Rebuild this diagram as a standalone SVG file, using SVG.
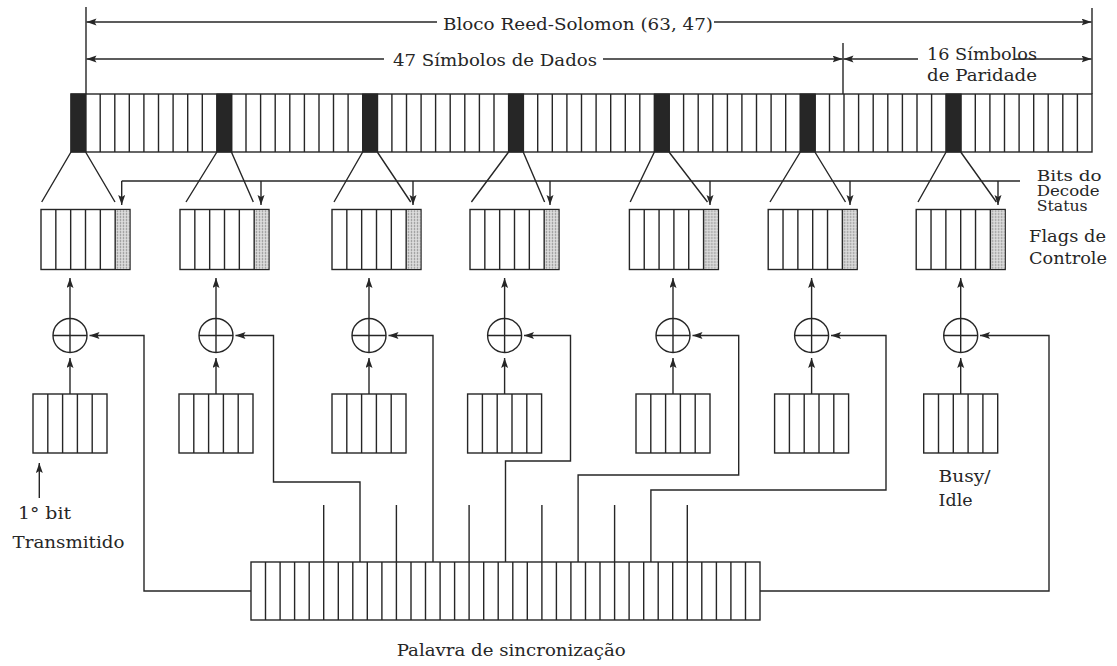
<svg xmlns="http://www.w3.org/2000/svg" xmlns:xlink="http://www.w3.org/1999/xlink" width="1117" height="666" viewBox="0 0 1117 666">
<style>
.ln{fill:none;stroke:#262626;stroke-width:1.4}
.box{fill:#fff;stroke:#262626;stroke-width:1.4}
.blk{fill:#262626;stroke:#262626;stroke-width:1}
.ar{fill:none;stroke:#262626;stroke-width:1.4;marker-end:url(#ah)}
.t{font-family:"DejaVu Serif","Liberation Serif",serif;font-size:17px;fill:#262626}
.s{font-size:14px}
</style>
<defs>
<marker id="ah" markerUnits="userSpaceOnUse" markerWidth="11" markerHeight="8" refX="10" refY="3.5" orient="auto">
<path d="M0,0 L10,3.5 L0,7 L2,3.5 Z" fill="#262626"/>
</marker>
<pattern id="dots" patternUnits="userSpaceOnUse" width="3" height="3">
<rect width="3" height="3" fill="#dcdcdc"/>
<circle cx="1.5" cy="1.5" r="0.8" fill="#7a7a7a"/>
</pattern>
<g id="ubox">
<rect class="box" x="0" y="0" width="89" height="60"/>
<rect x="74.2" y="0.7" width="14.1" height="58.6" fill="url(#dots)"/>
<path class="ln" d="M14.83,0V60M29.67,0V60M44.5,0V60M59.33,0V60M74.17,0V60"/>
</g>
<g id="lbox">
<rect class="box" x="0" y="0" width="74" height="59"/>
<path class="ln" d="M14.8,0V59M29.6,0V59M44.4,0V59M59.2,0V59"/>
</g>
<g id="xor">
<circle class="box" cx="0" cy="0" r="17"/>
<path class="ln" d="M-17,0H17M0,-17V17"/>
</g>
</defs>
<rect width="1117" height="666" fill="#fff"/>

<g id="rs-block">
<rect class="box" x="71" y="94" width="1021" height="58"/>
<path class="ln" d="M85.6,94V152M100.2,94V152M114.8,94V152M129.3,94V152M143.9,94V152M158.5,94V152M173.1,94V152M187.7,94V152M202.3,94V152M216.9,94V152M231.4,94V152M246,94V152M260.6,94V152M275.2,94V152M289.8,94V152M304.4,94V152M319,94V152M333.5,94V152M348.1,94V152M362.7,94V152M377.3,94V152M391.9,94V152M406.5,94V152M421.1,94V152M435.6,94V152M450.2,94V152M464.8,94V152M479.4,94V152M494,94V152M508.6,94V152M523.2,94V152M537.7,94V152M552.3,94V152M566.9,94V152M581.5,94V152M596.1,94V152M610.7,94V152M625.3,94V152M639.8,94V152M654.4,94V152M669,94V152M683.6,94V152M698.2,94V152M712.8,94V152M727.4,94V152M741.9,94V152M756.5,94V152M771.1,94V152M785.7,94V152M800.3,94V152M814.9,94V152M829.5,94V152M844,94V152M858.6,94V152M873.2,94V152M887.8,94V152M902.4,94V152M917,94V152M931.6,94V152M946.1,94V152M960.7,94V152M975.3,94V152M989.9,94V152M1004.5,94V152M1019.1,94V152M1033.7,94V152M1048.2,94V152M1062.8,94V152M1077.4,94V152"/>
<rect class="blk" x="71" y="94" width="15" height="58"/>
<rect class="blk" x="216.9" y="94" width="15" height="58"/>
<rect class="blk" x="362.7" y="94" width="15" height="58"/>
<rect class="blk" x="508.6" y="94" width="15" height="58"/>
<rect class="blk" x="654.4" y="94" width="15" height="58"/>
<rect class="blk" x="800.3" y="94" width="15" height="58"/>
<rect class="blk" x="946.1" y="94" width="15" height="58"/>
</g>

<g id="labels">
<text class="t" x="443" y="30" textLength="270" lengthAdjust="spacingAndGlyphs">Bloco Reed-Solomon (63, 47)</text>
<text class="t" x="393" y="65.5" textLength="204" lengthAdjust="spacingAndGlyphs">47 Símbolos de Dados</text>
<text class="t" x="927" y="60" textLength="110" lengthAdjust="spacingAndGlyphs">16 Símbolos</text>
<text class="t" x="927" y="81" textLength="110" lengthAdjust="spacingAndGlyphs">de Paridade</text>
<text class="t s" x="1036.7" y="181" textLength="65" lengthAdjust="spacingAndGlyphs">Bits do</text>
<text class="t s" x="1036.7" y="196" textLength="63" lengthAdjust="spacingAndGlyphs">Decode</text>
<text class="t s" x="1036.7" y="211" textLength="51" lengthAdjust="spacingAndGlyphs">Status</text>
<text class="t" x="1029" y="242" textLength="77" lengthAdjust="spacingAndGlyphs">Flags de</text>
<text class="t" x="1029" y="263.5" textLength="78" lengthAdjust="spacingAndGlyphs">Controle</text>
<text class="t" x="18" y="518.5" textLength="53" lengthAdjust="spacingAndGlyphs">1° bit</text>
<text class="t" x="12.5" y="548" textLength="112" lengthAdjust="spacingAndGlyphs">Transmitido</text>
<text class="t" x="938.6" y="482" textLength="52" lengthAdjust="spacingAndGlyphs">Busy/</text>
<text class="t" x="938.6" y="506" textLength="34" lengthAdjust="spacingAndGlyphs">Idle</text>
<text class="t" x="396.7" y="656" textLength="229" lengthAdjust="spacingAndGlyphs">Palavra de sincronização</text>
</g>

<g id="flags1"><use xlink:href="#ubox" href="#ubox" x="41" y="209.5"/></g>
<g id="flags2"><use xlink:href="#ubox" href="#ubox" x="180" y="209.5"/></g>
<g id="flags3"><use xlink:href="#ubox" href="#ubox" x="332" y="209.5"/></g>
<g id="flags4"><use xlink:href="#ubox" href="#ubox" x="470" y="209.5"/></g>
<g id="flags5"><use xlink:href="#ubox" href="#ubox" x="629.4" y="209.5"/></g>
<g id="flags6"><use xlink:href="#ubox" href="#ubox" x="768.2" y="209.5"/></g>
<g id="flags7"><use xlink:href="#ubox" href="#ubox" x="916.2" y="209.5"/></g>

<g id="xor1"><use xlink:href="#xor" href="#xor" x="70" y="335.5"/></g>
<g id="xor2"><use xlink:href="#xor" href="#xor" x="216" y="335.5"/></g>
<g id="xor3"><use xlink:href="#xor" href="#xor" x="369" y="335.5"/></g>
<g id="xor4"><use xlink:href="#xor" href="#xor" x="504.6" y="335.5"/></g>
<g id="xor5"><use xlink:href="#xor" href="#xor" x="673" y="335.5"/></g>
<g id="xor6"><use xlink:href="#xor" href="#xor" x="811.6" y="335.5"/></g>
<g id="xor7"><use xlink:href="#xor" href="#xor" x="960.7" y="335.5"/></g>

<g id="reg1"><use xlink:href="#lbox" href="#lbox" x="33" y="394"/></g>
<g id="reg2"><use xlink:href="#lbox" href="#lbox" x="179" y="394"/></g>
<g id="reg3"><use xlink:href="#lbox" href="#lbox" x="332" y="394"/></g>
<g id="reg4"><use xlink:href="#lbox" href="#lbox" x="467.6" y="394"/></g>
<g id="reg5"><use xlink:href="#lbox" href="#lbox" x="636" y="394"/></g>
<g id="reg6"><use xlink:href="#lbox" href="#lbox" x="774.6" y="394"/></g>
<g id="reg7"><use xlink:href="#lbox" href="#lbox" x="923.7" y="394"/></g>

<g id="sync-word">
<rect class="box" x="251" y="562" width="509" height="58"/>
<path class="ln" d="M265.5,562V620M280.1,562V620M294.6,562V620M309.2,562V620M323.7,505V620M338.3,562V620M352.8,562V620M367.3,562V620M381.9,562V620M396.4,505V620M411,562V620M425.5,562V620M440.1,562V620M454.6,562V620M469.1,505V620M483.7,562V620M498.2,562V620M512.8,562V620M527.3,562V620M541.9,505V620M556.4,562V620M570.9,562V620M585.5,562V620M600,562V620M614.6,505V620M629.1,562V620M643.7,562V620M658.2,562V620M672.7,562V620M687.3,505V620M701.8,562V620M716.4,562V620M730.9,562V620M745.5,562V620"/>
</g>

<g id="connectors">
<path class="ln" d="M86,7V94M1092,8V94M843,43V94"/>
<path class="ar" d="M437,22H86.5"/>
<path class="ar" d="M714,22H1091.5"/>
<path class="ar" d="M384,59H86.5"/>
<path class="ar" d="M603,59H842.5"/>
<path class="ar" d="M918,59H843.5"/>
<path class="ar" d="M1015,59H1091.5"/>

<path class="ln" d="M71,152L41.7,202M85.6,152L115,202M216.9,152L186,202M231.4,152L253.3,202M362.7,152L334,202M377.3,152L410.7,202M508.6,152L471.4,202M523.2,152L544.6,202M654.4,152L630.2,202M669,152L707.5,202M800.3,152L770,202M814.9,152L845.5,202M946.1,152L918,202M960.7,152L996.4,202"/>

<path class="ln" d="M121.7,181H1020"/>
<path class="ar" d="M121.7,181V205"/>
<path class="ar" d="M261,181V205"/>
<path class="ar" d="M413,181V205"/>
<path class="ar" d="M550,181V205"/>
<path class="ar" d="M710,181V205"/>
<path class="ar" d="M850,181V205"/>
<path class="ar" d="M998,181V205"/>

<path class="ar" d="M70,318.5V278"/>
<path class="ar" d="M216,318.5V278"/>
<path class="ar" d="M369,318.5V278"/>
<path class="ar" d="M504.6,318.5V278"/>
<path class="ar" d="M673,318.5V278"/>
<path class="ar" d="M811.6,318.5V278"/>
<path class="ar" d="M960.7,318.5V278"/>

<path class="ar" d="M70,394V358"/>
<path class="ar" d="M216,394V358"/>
<path class="ar" d="M369,394V358"/>
<path class="ar" d="M504.6,394V358"/>
<path class="ar" d="M673,394V358"/>
<path class="ar" d="M811.6,394V358"/>
<path class="ar" d="M960.7,394V358"/>

<path class="ar" d="M251,591H144V335.5H89.5"/>
<path class="ar" d="M360,562V482H273.5V335.5H235.5"/>
<path class="ar" d="M433,562V335.5H388.5"/>
<path class="ar" d="M505.5,562V461H570.5V335.5H524"/>
<path class="ar" d="M578.1,562V475H738.7V335.5H692.5"/>
<path class="ar" d="M650.9,562V490H886V335.5H831"/>
<path class="ar" d="M760,591H1049V335.5H980"/>

<path class="ar" d="M39.3,498V463"/>
</g>
</svg>
